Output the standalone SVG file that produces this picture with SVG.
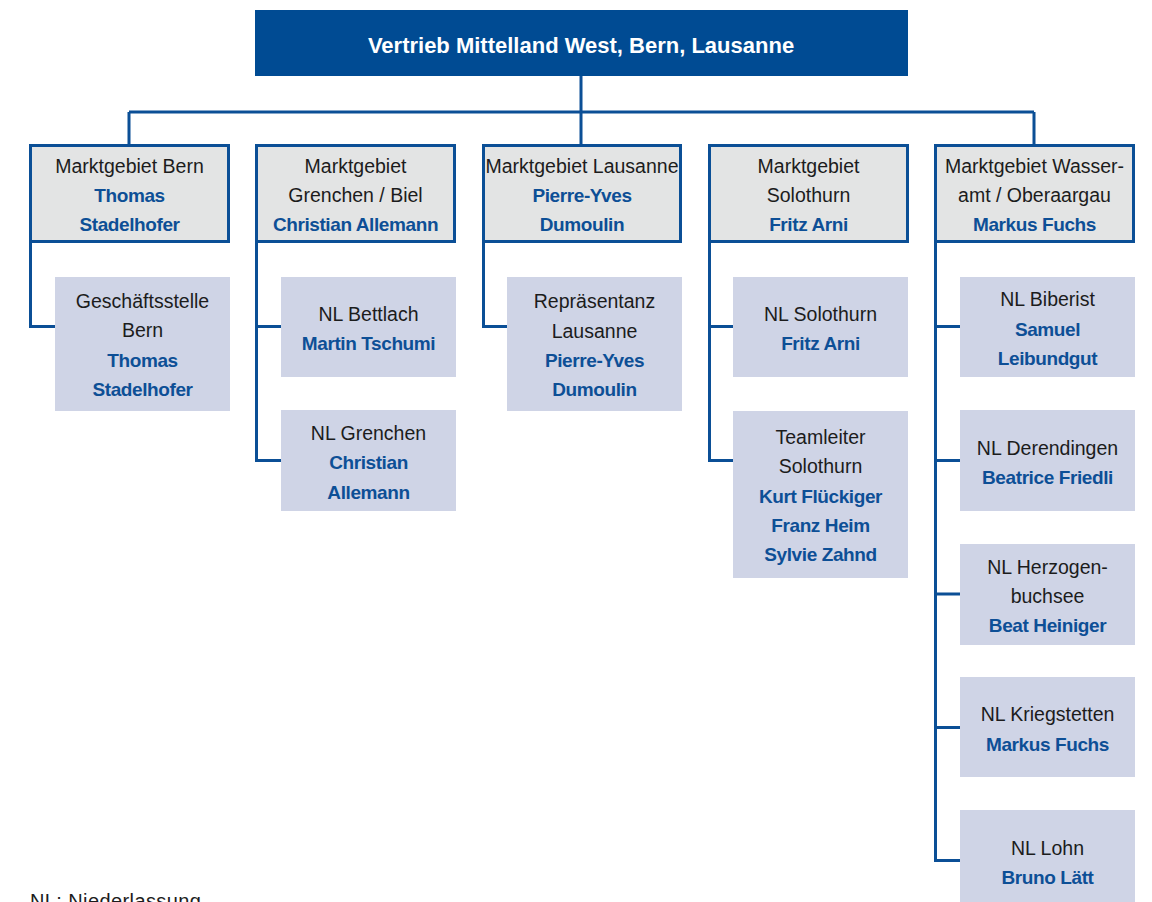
<svg xmlns="http://www.w3.org/2000/svg" width="1152" height="902" viewBox="0 0 1152 902">
<style>
.hd{fill:#e3e4e4;stroke:#0b4f96;stroke-width:3}
.ch{fill:#cfd4e6}
.t{font-family:"Liberation Sans",Arial,sans-serif;font-size:19.5px;fill:#1c1c1c;text-anchor:middle}
.n{font-family:"Liberation Sans",Arial,sans-serif;font-size:19px;font-weight:bold;fill:#0d4f96;text-anchor:middle;letter-spacing:-0.4px}
.ln{fill:none;stroke:#0b4f96;stroke-width:3}
</style>
<rect width="1152" height="902" fill="#ffffff"/>
<g id="connectors" class="ln">
<path d="M581,76V112M129,112H1034M129,112V145M581,112V145M1034,112V145"/>
<path d="M30.5,242V326.5H55"/>
<path d="M256.5,242V460.5H281M256.5,326.5H281"/>
<path d="M483.5,242V326.5H507"/>
<path d="M709.5,242V460.5H733M709.5,326.5H733"/>
<path d="M935.5,242V860.5H960M935.5,326.5H960M935.5,460.5H960M935.5,594H960M935.5,727.5H960"/>
</g>
<g id="top">
<rect x="255" y="10" width="653" height="66" fill="#004b93"/>
<text x="581" y="53" font-family="Liberation Sans,Arial,sans-serif" font-size="22" font-weight="bold" fill="#ffffff" text-anchor="middle">Vertrieb Mittelland West, Bern, Lausanne</text>
</g>
<g id="mg-bern">
<rect class="hd" x="30.5" y="145.5" width="198" height="96"/>
<text class="t" x="129.5" y="173">Marktgebiet Bern</text>
<text class="n" x="129.5" y="202">Thomas</text>
<text class="n" x="129.5" y="231">Stadelhofer</text>
</g>
<g id="mg-grenchen">
<rect class="hd" x="256.5" y="145.5" width="198" height="96"/>
<text class="t" x="355.5" y="173">Marktgebiet</text>
<text class="t" x="355.5" y="202">Grenchen / Biel</text>
<text class="n" x="355.5" y="231">Christian Allemann</text>
</g>
<g id="mg-lausanne">
<rect class="hd" x="483.5" y="145.5" width="197" height="96"/>
<text class="t" x="582" y="173">Marktgebiet Lausanne</text>
<text class="n" x="582" y="202">Pierre-Yves</text>
<text class="n" x="582" y="231">Dumoulin</text>
</g>
<g id="mg-solothurn">
<rect class="hd" x="709.5" y="145.5" width="198" height="96"/>
<text class="t" x="808.5" y="173">Marktgebiet</text>
<text class="t" x="808.5" y="202">Solothurn</text>
<text class="n" x="808.5" y="231">Fritz Arni</text>
</g>
<g id="mg-wasseramt">
<rect class="hd" x="935.5" y="145.5" width="198" height="96"/>
<text class="t" x="1034.5" y="173">Marktgebiet Wasser-</text>
<text class="t" x="1034.5" y="202">amt / Oberaargau</text>
<text class="n" x="1034.5" y="231">Markus Fuchs</text>
</g>
<g id="gs-bern">
<rect class="ch" x="55" y="277" width="175" height="134"/>
<text class="t" x="142.5" y="308">Geschäftsstelle</text>
<text class="t" x="142.5" y="337">Bern</text>
<text class="n" x="142.5" y="367">Thomas</text>
<text class="n" x="142.5" y="396">Stadelhofer</text>
</g>
<g id="nl-bettlach">
<rect class="ch" x="281" y="277" width="175" height="100"/>
<text class="t" x="368.5" y="321">NL Bettlach</text>
<text class="n" x="368.5" y="350">Martin Tschumi</text>
</g>
<g id="nl-grenchen">
<rect class="ch" x="281" y="410" width="175" height="101"/>
<text class="t" x="368.5" y="440">NL Grenchen</text>
<text class="n" x="368.5" y="469">Christian</text>
<text class="n" x="368.5" y="499">Allemann</text>
</g>
<g id="rep-lausanne">
<rect class="ch" x="507" y="277" width="175" height="134"/>
<text class="t" x="594.5" y="308">Repräsentanz</text>
<text class="t" x="594.5" y="338">Lausanne</text>
<text class="n" x="594.5" y="367">Pierre-Yves</text>
<text class="n" x="594.5" y="396">Dumoulin</text>
</g>
<g id="nl-solothurn">
<rect class="ch" x="733" y="277" width="175" height="100"/>
<text class="t" x="820.5" y="321">NL Solothurn</text>
<text class="n" x="820.5" y="350">Fritz Arni</text>
</g>
<g id="tl-solothurn">
<rect class="ch" x="733" y="411" width="175" height="167"/>
<text class="t" x="820.5" y="444">Teamleiter</text>
<text class="t" x="820.5" y="473">Solothurn</text>
<text class="n" x="820.5" y="503">Kurt Flückiger</text>
<text class="n" x="820.5" y="532">Franz Heim</text>
<text class="n" x="820.5" y="561">Sylvie Zahnd</text>
</g>
<g id="nl-biberist">
<rect class="ch" x="960" y="277" width="175" height="100"/>
<text class="t" x="1047.5" y="306">NL Biberist</text>
<text class="n" x="1047.5" y="336">Samuel</text>
<text class="n" x="1047.5" y="365">Leibundgut</text>
</g>
<g id="nl-derendingen">
<rect class="ch" x="960" y="410" width="175" height="101"/>
<text class="t" x="1047.5" y="455">NL Derendingen</text>
<text class="n" x="1047.5" y="484">Beatrice Friedli</text>
</g>
<g id="nl-herzogenbuchsee">
<rect class="ch" x="960" y="544" width="175" height="101"/>
<text class="t" x="1047.5" y="574">NL Herzogen-</text>
<text class="t" x="1047.5" y="603">buchsee</text>
<text class="n" x="1047.5" y="632">Beat Heiniger</text>
</g>
<g id="nl-kriegstetten">
<rect class="ch" x="960" y="677" width="175" height="100"/>
<text class="t" x="1047.5" y="721">NL Kriegstetten</text>
<text class="n" x="1047.5" y="751">Markus Fuchs</text>
</g>
<g id="nl-lohn">
<rect class="ch" x="960" y="810" width="175" height="100"/>
<text class="t" x="1047.5" y="855">NL Lohn</text>
<text class="n" x="1047.5" y="884">Bruno Lätt</text>
</g>
<g id="legend">
<text x="30" y="908" font-family="Liberation Sans,Arial,sans-serif" font-size="20" letter-spacing="0.4" fill="#1c1c1c">NL: Niederlassung</text>
</g>
</svg>
